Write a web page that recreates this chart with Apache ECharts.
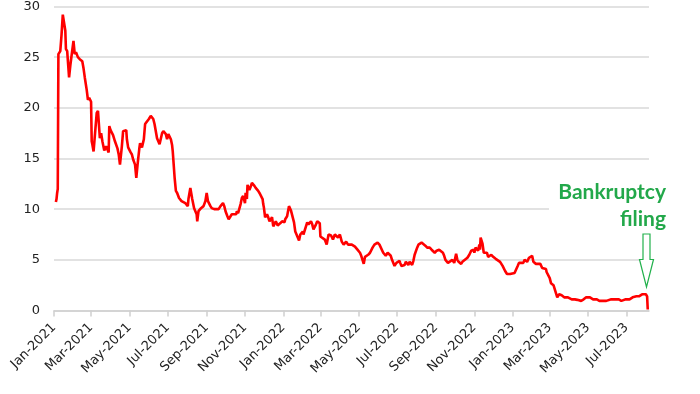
<!DOCTYPE html>
<html><head><meta charset="utf-8">
<script src="https://cdn.jsdelivr.net/npm/echarts@6/dist/echarts.min.js"></script>
<style>html,body{margin:0;padding:0;background:#fff}#c{width:700px;height:394px}</style>
</head><body><div id="c"></div>
<script>
const dates = [
'2021-01-04','2021-01-05','2021-01-06','2021-01-07','2021-01-08','2021-01-11','2021-01-13','2021-01-15','2021-01-19','2021-01-20',
'2021-01-22','2021-01-25','2021-01-27','2021-02-01','2021-02-03','2021-02-05','2021-02-08','2021-02-10','2021-02-11','2021-02-15',
'2021-02-17','2021-02-19','2021-02-22','2021-02-24','2021-02-26','2021-03-01','2021-03-02','2021-03-03','2021-03-05','2021-03-08',
'2021-03-10','2021-03-12','2021-03-15','2021-03-17','2021-03-19','2021-03-22','2021-03-25','2021-03-29','2021-03-30','2021-04-01',
'2021-04-05','2021-04-08','2021-04-12','2021-04-14','2021-04-16','2021-04-19','2021-04-21','2021-04-26','2021-04-27','2021-04-29',
'2021-05-03','2021-05-05','2021-05-07','2021-05-10','2021-05-12','2021-05-14','2021-05-17','2021-05-18','2021-05-21','2021-05-24',
'2021-05-26','2021-06-01','2021-06-04','2021-06-08','2021-06-10','2021-06-14','2021-06-16','2021-06-18','2021-06-22','2021-06-24',
'2021-06-28','2021-06-30','2021-07-02','2021-07-06','2021-07-08','2021-07-09','2021-07-12','2021-07-14','2021-07-16','2021-07-19',
'2021-07-21','2021-07-23','2021-07-26','2021-07-29','2021-08-02','2021-08-03','2021-08-06','2021-08-09','2021-08-12','2021-08-16',
'2021-08-17','2021-08-19','2021-08-23','2021-08-25','2021-08-27','2021-08-30','2021-09-01','2021-09-03','2021-09-07','2021-09-09',
'2021-09-13','2021-09-16','2021-09-20','2021-09-23','2021-09-27','2021-09-29','2021-10-01','2021-10-04','2021-10-06','2021-10-08',
'2021-10-11','2021-10-14','2021-10-18','2021-10-19','2021-10-21','2021-10-25','2021-10-27','2021-10-29','2021-11-01','2021-11-02',
'2021-11-04','2021-11-05','2021-11-08','2021-11-10','2021-11-12','2021-11-16','2021-11-18','2021-11-22','2021-11-24','2021-11-29',
'2021-11-30','2021-12-01','2021-12-03','2021-12-06','2021-12-08','2021-12-10','2021-12-14','2021-12-16','2021-12-20','2021-12-21',
'2021-12-23','2021-12-27','2021-12-30','2022-01-03','2022-01-04','2022-01-07','2022-01-10','2022-01-13','2022-01-18','2022-01-20',
'2022-01-24','2022-01-26','2022-01-28','2022-02-01','2022-02-02','2022-02-04','2022-02-08','2022-02-10','2022-02-14','2022-02-16',
'2022-02-18','2022-02-22','2022-02-24','2022-02-28','2022-03-01','2022-03-03','2022-03-08','2022-03-11','2022-03-14','2022-03-18',
'2022-03-21','2022-03-24','2022-03-29','2022-04-01','2022-04-04','2022-04-07','2022-04-11','2022-04-14','2022-04-20','2022-04-25',
'2022-04-29','2022-05-03','2022-05-05','2022-05-09','2022-05-11','2022-05-16','2022-05-19','2022-05-23','2022-05-26','2022-05-31',
'2022-06-03','2022-06-06','2022-06-09','2022-06-13','2022-06-16','2022-06-21','2022-06-23','2022-06-27','2022-06-30','2022-07-05',
'2022-07-06','2022-07-08','2022-07-13','2022-07-15','2022-07-19','2022-07-21','2022-07-25','2022-07-27','2022-07-29','2022-08-02',
'2022-08-04','2022-08-09','2022-08-12','2022-08-15','2022-08-18','2022-08-22','2022-08-25','2022-08-30','2022-09-02','2022-09-06',
'2022-09-08','2022-09-12','2022-09-14','2022-09-16','2022-09-20','2022-09-22','2022-09-27','2022-09-30','2022-10-03','2022-10-05',
'2022-10-07','2022-10-11','2022-10-13','2022-10-17','2022-10-21','2022-10-24','2022-10-27','2022-10-31','2022-11-01','2022-11-03',
'2022-11-07','2022-11-09','2022-11-10','2022-11-11','2022-11-14','2022-11-16','2022-11-21','2022-11-23','2022-11-28','2022-12-01',
'2022-12-05','2022-12-08','2022-12-12','2022-12-16','2022-12-20','2022-12-23','2022-12-28','2022-12-30','2023-01-04','2023-01-09',
'2023-01-11','2023-01-13','2023-01-18','2023-01-20','2023-01-24','2023-01-27','2023-02-01','2023-02-03','2023-02-07','2023-02-10',
'2023-02-14','2023-02-17','2023-02-23','2023-02-24','2023-03-01','2023-03-03','2023-03-07','2023-03-10','2023-03-13','2023-03-16',
'2023-03-20','2023-03-24','2023-03-30','2023-04-05','2023-04-10','2023-04-14','2023-04-20','2023-04-24','2023-04-28','2023-05-04',
'2023-05-09','2023-05-15','2023-05-19','2023-05-30','2023-06-02','2023-06-07','2023-06-13','2023-06-19','2023-06-23','2023-06-30',
'2023-07-06','2023-07-11','2023-07-17','2023-07-21','2023-07-26','2023-07-28','2023-08-01','2023-08-03','2023-08-04'
];
const prices = [
10.7,11.0,11.6,12.0,25.3,25.6,27.2,29.2,27.6,25.8,
25.6,23.0,24.2,26.6,25.3,25.5,25.0,24.9,24.8,24.6,
23.9,23.0,21.8,20.8,21.0,20.6,16.7,16.4,15.7,18.0,
19.5,19.7,17.0,17.5,16.7,15.8,16.2,15.6,18.2,17.8,
17.3,16.7,16.0,15.4,14.4,16.2,17.7,17.8,16.9,16.1,
15.6,15.4,14.9,14.4,13.1,14.4,16.1,16.5,16.1,16.9,
18.4,18.9,19.2,18.9,18.4,17.0,17.0,16.4,17.5,17.7,
17.4,16.9,17.4,16.9,16.3,15.7,13.1,11.8,11.6,11.1,
11.0,10.8,10.9,10.6,10.3,11.0,12.1,11.0,10.1,9.5,
8.8,9.8,10.1,10.1,10.3,10.8,11.6,10.8,10.3,10.1,
10.0,10.1,10.0,10.3,10.6,10.3,9.8,9.3,9.0,9.2,
9.5,9.6,9.5,9.8,9.6,10.5,11.1,11.3,10.6,11.6,
11.0,12.4,11.9,12.2,12.6,12.3,12.1,11.8,11.6,11.0,
10.5,10.2,9.2,9.5,9.2,8.8,9.2,8.3,8.8,8.9,
8.4,8.6,8.8,8.7,9.0,9.3,10.3,9.9,8.7,7.8,
7.2,6.9,7.5,7.8,7.5,7.6,8.7,8.5,8.8,8.5,
8.0,8.5,8.8,8.6,7.3,7.2,7.0,6.5,7.5,7.4,
7.0,7.5,7.2,7.5,6.8,6.5,6.8,6.5,6.5,6.3,
6.0,5.7,5.4,4.6,5.3,5.5,5.7,6.2,6.5,6.7,
6.5,6.5,5.7,5.4,5.7,5.4,5.0,4.4,4.7,4.9,
4.7,4.4,4.5,4.8,4.5,4.8,4.5,4.9,5.5,6.2,
6.5,6.7,6.7,6.4,6.2,6.2,6.0,5.7,5.9,6.0,
5.9,5.7,5.4,5.0,4.7,4.7,5.0,4.7,5.6,5.0,
4.8,4.6,4.8,5.0,5.2,5.5,5.9,6.0,5.7,6.2,
5.9,6.5,6.0,7.2,6.6,5.7,5.7,5.3,5.5,5.3,
5.1,5.0,4.8,4.4,3.9,3.6,3.6,3.6,3.7,4.4,
4.7,4.8,4.7,5.0,4.8,5.2,5.4,4.8,4.6,4.7,
4.6,4.2,4.1,3.8,3.2,2.7,2.5,2.4,1.3,1.6,
1.5,1.3,1.3,1.1,1.1,1.05,0.95,1.1,1.3,1.3,
1.1,1.1,0.95,0.95,1.0,1.1,1.1,1.1,0.95,1.1,
1.1,1.3,1.4,1.4,1.6,1.75,1.6,1.4,0.1
];
const tickDates = ['2021-01-01','2021-03-01','2021-05-01','2021-07-01','2021-09-01','2021-11-01',
'2022-01-01','2022-03-01','2022-05-01','2022-07-01','2022-09-01','2022-11-01',
'2023-01-01','2023-03-01','2023-05-01','2023-07-01'];
const tickLabels = ['Jan-2021','Mar-2021','May-2021','Jul-2021','Sep-2021','Nov-2021',
'Jan-2022','Mar-2022','May-2022','Jul-2022','Sep-2022','Nov-2022',
'Jan-2023','Mar-2023','May-2023','Jul-2023'];
const axisStart = '2021-01-01';
const axisEnd = '2023-08-06';
const yMin = 0, yMax = 30, yStep = 5;
const annotationText = ['Bankruptcy', 'filing'];

function ts(s){ const p = s.split('-'); return new Date(+p[0], +p[1]-1, +p[2]).getTime(); }
const tickValues = tickDates.map(ts);
const seriesData = dates.map((d, i) => [ts(d), prices[i]]);

const chart = echarts.init(document.getElementById('c'), null, {renderer: 'canvas'});
chart.setOption({
  animation: false,
  backgroundColor: '#fff',
  grid: {left: 54, right: 51, top: 5, bottom: 83.5, containLabel: false},
  xAxis: {
    type: 'value',
    min: ts(axisStart), max: ts(axisEnd),
    axisLine: {show: true, lineStyle: {color: '#d0d0d0', width: 1.5}},
    axisTick: {show: true, customValues: tickValues, length: 6, lineStyle: {color: '#d0d0d0', width: 1.5}},
    axisLabel: {
      customValues: tickValues,
      rotate: 45, margin: 15,
      color: '#222', fontFamily: 'DejaVu Sans', fontSize: 13,
      formatter: function (v) {
        let best = 0, bd = Infinity;
        tickValues.forEach((t, i) => { const d = Math.abs(t - v); if (d < bd) { bd = d; best = i; } });
        return tickLabels[best];
      }
    },
    splitLine: {show: false}
  },
  yAxis: {
    type: 'value', min: yMin, max: yMax, interval: yStep,
    axisLine: {show: false}, axisTick: {show: false},
    axisLabel: {color: '#222', fontFamily: 'DejaVu Sans', fontSize: 13, margin: 14},
    splitLine: {lineStyle: {color: '#d9d9d9', width: 1.5}}
  },
  series: [{
    type: 'line', data: seriesData, showSymbol: false, symbol: 'none',
    lineStyle: {color: '#ff0000', width: 2.6}, z: 3
  }],
  graphic: [
    {type: 'rect', left: 549, top: 170, shape: {width: 151, height: 62}, style: {fill: '#ffffff'}, z: 10},
    {type: 'text', x: 666, y: 179, z: 11, style: {
      text: annotationText.join('\n'), fill: '#22a84a', font: 'bold 21px Lato',
      align: 'right', verticalAlign: 'top', lineHeight: 27
    }},
    {type: 'polygon', z: 12, shape: {points: [[643,234],[650,234],[650,259.5],[653.5,259.5],[646.5,287],[639.5,259.5],[643,259.5]]},
      style: {fill: '#ffffff', stroke: '#22b14c', lineWidth: 1.2}}
  ]
});
</script>
</body></html>
